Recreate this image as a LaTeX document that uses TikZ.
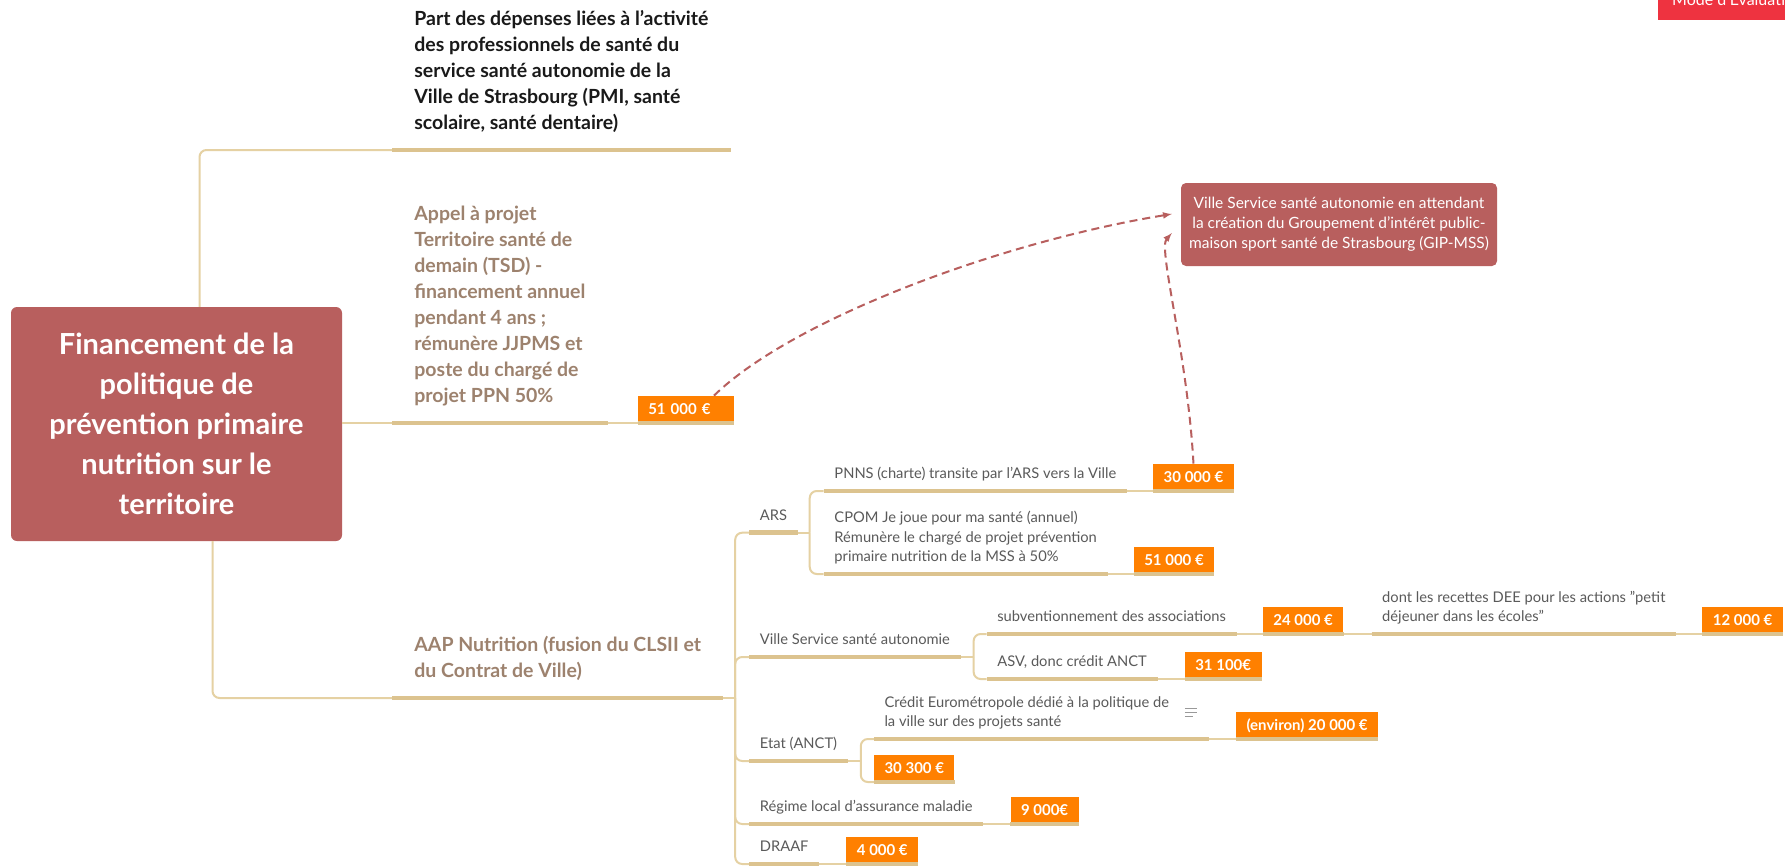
\documentclass[tikz,border=0pt]{standalone}
\usepackage{fontspec}
\setmainfont{Lato}
\usetikzlibrary{arrows}
\usetikzlibrary{positioning}

\definecolor{boxred}{HTML}{B85F5E}
\definecolor{amber}{HTML}{FF8000}
\definecolor{tanthin}{HTML}{E5D1A3}
\definecolor{tanthick}{HTML}{DCC38F}
\definecolor{brownish}{HTML}{9D826E}
\definecolor{greytext}{HTML}{5A5A5A}
\definecolor{badge}{HTML}{EE3340}

\begin{document}
\begin{tikzpicture}[x=1pt,y=-1pt,inner sep=0pt,
  root/.style={fill=boxred,rounded corners=6pt,text=white,align=center,minimum width=331pt,minimum height=234pt,font=\bfseries\fontsize{29}{40}\selectfont},
  note/.style={fill=boxred,rounded corners=5pt,text=white,align=center,minimum width=316pt,minimum height=83pt,font=\fontsize{15.5}{20}\selectfont},
  topic/.style={anchor=south west,align=left,inner xsep=22pt,inner ysep=13pt,execute at end node=\strut,font=\bfseries\fontsize{19.5}{26}\selectfont},
  leaf/.style={anchor=south west,align=left,inner xsep=10.5pt,inner ysep=6pt,text=greytext,execute at end node=\strut,font=\fontsize{14.7}{19.7}\selectfont},
  amount/.style={fill=amber,text=white,inner xsep=10.5pt,minimum height=27pt,text height=11pt,text depth=0pt,font=\bfseries\fontsize{15}{18}\selectfont},
  link/.style={draw=tanthin,line width=2pt,rounded corners=7pt},
  uline/.style={draw=tanthick,line width=4.5pt},
  flow/.style={draw=boxred,line width=2pt,dash pattern=on 8pt off 5pt,-latex},
  memo/.style={draw=gray!80,line width=1.6pt},
  mode/.style={fill=badge,text=white,anchor=south west,inner xsep=14pt,inner ysep=14pt,text depth=0pt,font=\fontsize{16}{18}\selectfont}]

  \path[use as bounding box,fill=white] (0,0) rectangle (1785,865);

  \node[root] (main) at (176.5,424) {Financement de la\\politique de\\prévention primaire\\nutrition sur le\\territoire};
  \path (main.east) ++(50pt,0) coordinate (c0);

  \node[topic,text=black!90] (b1) at (c0 |- 0,150) {Part des dépenses liées à l'activité\\des professionnels de santé du\\service santé autonomie de la\\Ville de Strasbourg (PMI, santé\\scolaire, santé dentaire)};
  \node[topic,text=brownish] (b2) at (c0 |- 0,423) {Appel à projet\\Territoire santé de\\demain (TSD) -\\financement annuel\\pendant 4 ans ;\\rémunère JJPMS et\\poste du chargé de\\projet PPN 50\%};
  \node[amount] (atsd) [right=30pt of b2.south east,anchor=south west,text width=75pt,align=left] {51 000 €};
  \node[topic,text=brownish] (b3) at (c0 |- 0,698) {AAP Nutrition (fusion du CLSII et\\du Contrat de Ville)};

  \path (b3.south east) ++(12pt,0) coordinate (j1) ++(14pt,0) coordinate (c1);
  \node[leaf] (ars) at (c1 |- 0,532.7) {ARS};
  \node[leaf] (ville) at (c1 |- 0,657) {Ville Service santé autonomie};
  \node[leaf] (etat) at (c1 |- 0,761) {Etat (ANCT)};
  \node[leaf] (rlam) at (c1 |- 0,824) {Régime local d'assurance maladie};
  \node[leaf] (draaf) at (c1 |- 0,864) {DRAAF};

  \path (ars.south east) ++(12pt,0) coordinate (j2) ++(14pt,0) coordinate (c2);
  \node[leaf] (pnns) at (c2 |- 0,491) {PNNS (charte) transite par l'ARS vers la Ville};
  \node[leaf] (cpom) at (c2 |- 0,574) {CPOM Je joue pour ma santé (annuel)\\Rémunère le chargé de projet prévention\\primaire nutrition de la MSS à 50\%};

  \path (ville.south east) ++(13pt,0) coordinate (j3) ++(13pt,0) coordinate (c3);
  \node[leaf] (subv) at (c3 |- 0,634) {subventionnement des associations};
  \node[leaf] (asv) at (c3 |- 0,679) {ASV, donc crédit ANCT};

  \path (etat.south east) ++(13pt,0) coordinate (j4) ++(13pt,0) coordinate (c4);
  \node[leaf] (euro) at (c4 |- 0,739) {Crédit Eurométropole dédié à la politique de\hspace*{29pt}\\la ville sur des projets santé};
  \node[amount] (aetat) at (c4 |- 0,782) [anchor=south west] {30 300 €};

  \node[amount] (apnns) [right=26pt of pnns.south east,anchor=south west] {30 000 €};
  \node[amount] (acpom) [right=26pt of cpom.south east,anchor=south west] {51 000 €};
  \node[amount] (asubv) [right=26pt of subv.south east,anchor=south west] {24 000 €};
  \node[leaf] (dee) [right=28pt of asubv.south east,anchor=south west] {dont les recettes DEE pour les actions "petit\\déjeuner dans les écoles"};
  \node[amount] (adee) [right=26pt of dee.south east,anchor=south west] {12 000 €};
  \node[amount] (aasv) [right=27pt of asv.south east,anchor=south west] {31 100€};
  \node[amount] (aeuro) [right=27pt of euro.south east,anchor=south west] {(environ) 20 000 €};
  \node[amount] (arlam) [right=27pt of rlam.south east,anchor=south west] {9 000€};
  \node[amount] (adraaf) [right=27pt of draaf.south east,anchor=south west] {4 000 €};

  \node[note] (gip) at (1339,224.5) {Ville Service santé autonomie en attendant\\la création du Groupement d'intérêt public-\\maison sport santé de Strasbourg (GIP-MSS)};
  \node[mode] (modeeval) at (1658,20) {Mode d'Évaluation};

  \draw[link] ([xshift=23pt]main.north) |- (b1.south west);
  \draw[link] (main.east |- b2.south west) -- (b2.south west);
  \draw[link] ([xshift=36pt]main.south) |- (b3.south west);
  \draw[link] (b3.south east) -- (j1);
  \foreach \n in {ars,ville,etat,rlam,draaf} \draw[link] (j1) |- (\n.south west);
  \draw[link] (ars.south east) -- (j2);
  \foreach \n in {pnns,cpom} \draw[link] (j2) |- (\n.south west);
  \draw[link] (ville.south east) -- (j3);
  \foreach \n in {subv,asv} \draw[link] (j3) |- (\n.south west);
  \draw[link] (etat.south east) -- (j4);
  \foreach \n in {euro,aetat} \draw[link] (j4) |- (\n.south west);
  \foreach \a/\b in {b2/atsd,pnns/apnns,cpom/acpom,subv/asubv,asubv/dee,dee/adee,asv/aasv,euro/aeuro,rlam/arlam,draaf/adraaf}
    \draw[link] (\a.south east) -- (\b.south west);
  \foreach \n in {b1,b2,b3,ars,ville,etat,rlam,draaf,pnns,cpom,subv,asv,euro,dee,atsd,apnns,acpom,asubv,adee,aasv,aeuro,aetat,arlam,adraaf}
    \draw[uline] (\n.south west) -- (\n.south east);

  \draw[memo] ([xshift=-24pt,yshift=30.5pt]euro.south east) -- ++(12,0) ++(-12,4) -- ++(12,0) ++(-12,4) -- ++(8,0);

  \draw[flow] ([xshift=-20pt]atsd.north east) .. controls +(78,-76) and +(-172,28) .. ([xshift=-9pt,yshift=10.5pt]gip.west);
  \draw[flow] (apnns.north) .. controls +(-6,-110) and +(-14,16) .. ([xshift=-9pt,yshift=-8.5pt]gip.west);

\end{tikzpicture}
\end{document}
